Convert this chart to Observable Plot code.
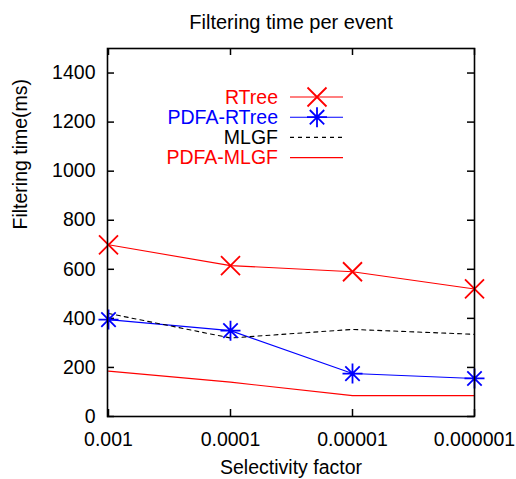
<!DOCTYPE html>
<html>
<head>
<meta charset="utf-8">
<script src="https://cdn.jsdelivr.net/npm/d3@7"></script>
<script src="https://cdn.jsdelivr.net/npm/@observablehq/plot@0.6"></script>
<style>
  html, body { margin: 0; padding: 0; background: white; }
</style>
</head>
<body>
<div id="chart"></div>
<script>
// ---- data ----
const titleText = "Filtering time per event";
const xLabel = "Selectivity factor";
const yLabel = "Filtering time(ms)";
const factors = ["0.001", "0.0001", "0.00001", "0.000001"];
const seriesNames = ["RTree", "PDFA-RTree", "MLGF", "PDFA-MLGF"];
const rtree = [700, 615, 590, 520];
const pdfaRtree = [395, 350, 175, 155];
const mlgf = [420, 320, 355, 335];
const pdfaMlgf = [185, 140, 85, 85];
const yTicks = [0, 200, 400, 600, 800, 1000, 1200, 1400];

// ---- styles ----
const colors = {"RTree": "#ff0000", "PDFA-RTree": "#0000ff", "MLGF": "#000000", "PDFA-MLGF": "#ff0000"};
const dashes = {"RTree": null, "PDFA-RTree": null, "MLGF": "4,4", "PDFA-MLGF": null};

// custom marker shapes (gnuplot-like)
const crossSym = {
  draw(ctx, size) {
    const r = Math.sqrt(size / Math.PI);
    ctx.moveTo(-r, -r); ctx.lineTo(r, r);
    ctx.moveTo(-r, r); ctx.lineTo(r, -r);
  }
};
const starSym = {
  draw(ctx, size) {
    const r = Math.sqrt(size / Math.PI);
    const d = r * 0.72;
    ctx.moveTo(-r, 0); ctx.lineTo(r, 0);
    ctx.moveTo(0, -r); ctx.lineTo(0, r);
    ctx.moveTo(-d, -d); ctx.lineTo(d, d);
    ctx.moveTo(-d, d); ctx.lineTo(d, -d);
  }
};
const symbols = {"RTree": crossSym, "PDFA-RTree": starSym, "MLGF": null, "PDFA-MLGF": null};
const symR = {"RTree": 9.5, "PDFA-RTree": 10};

const valuesBySeries = {"RTree": rtree, "PDFA-RTree": pdfaRtree, "MLGF": mlgf, "PDFA-MLGF": pdfaMlgf};
const seriesData = seriesNames.map(name => ({
  name,
  points: factors.map((f, i) => ({factor: f, value: valuesBySeries[name][i]}))
}));

const W = 516, H = 479;
const mL = 107, mR = 42, mT = 48, mB = 63;
const frameW = W - mL - mR, frameH = H - mT - mB;
const tickLen = 7;
const FS = 19.5;

const lineMarks = [];
const dotMarks = [];
for (const s of seriesData) {
  lineMarks.push(Plot.line(s.points, {
    x: "factor", y: "value", stroke: colors[s.name], strokeWidth: 1.1,
    strokeDasharray: dashes[s.name] || undefined
  }));
  if (symbols[s.name]) {
    dotMarks.push(Plot.dot(s.points, {
      x: "factor", y: "value", symbol: () => symbols[s.name], r: symR[s.name],
      stroke: colors[s.name], fill: "none", strokeWidth: 1.8
    }));
  }
}

// legend drawn inside the frame (top area)
const legendMark = (index, scales, values, dimensions) => {
  const g = d3.create("svg:g");
  const left = dimensions.marginLeft, top = dimensions.marginTop;
  seriesNames.forEach((name, i) => {
    const y = top + 49 + 20.2 * i;
    g.append("text")
      .attr("x", left + 171).attr("y", y).attr("dy", "0.35em")
      .attr("text-anchor", "end").attr("fill", colors[name])
      .attr("font-size", FS)
      .text(name);
    const ln = g.append("line")
      .attr("x1", left + 183).attr("x2", left + 236)
      .attr("y1", y).attr("y2", y)
      .attr("stroke", colors[name]).attr("stroke-width", 1.1);
    if (dashes[name]) ln.attr("stroke-dasharray", dashes[name]);
    if (symbols[name]) {
      const r = symR[name];
      g.append("path")
        .attr("transform", `translate(${left + 210},${y})`)
        .attr("d", d3.symbol(symbols[name], Math.PI * r * r)())
        .attr("stroke", colors[name]).attr("fill", "none").attr("stroke-width", 1.8);
    }
  });
  return g.node();
};

const chart = Plot.plot({
  width: W, height: H,
  marginLeft: mL, marginRight: mR, marginTop: mT, marginBottom: mB,
  style: {fontFamily: "'Liberation Sans', Arial, Helvetica, sans-serif", fontSize: FS + "px", background: "white", color: "black", overflow: "visible"},
  x: {type: "point", domain: factors, padding: 0},
  y: {domain: [0, 1500]},
  marks: [
    // inward ticks on all four sides
    Plot.tickY(yTicks, {y: d => d, insetRight: frameW - tickLen, strokeWidth: 1.5}),
    Plot.tickY(yTicks, {y: d => d, insetLeft: frameW - tickLen, strokeWidth: 1.5}),
    Plot.tickX(factors, {x: d => d, insetTop: frameH - tickLen, strokeWidth: 1.5}),
    Plot.tickX(factors, {x: d => d, insetBottom: frameH - tickLen, strokeWidth: 1.5}),
    Plot.axisY({ticks: yTicks, tickFormat: d => String(d), tickSize: 0, tickPadding: 12, label: null, fontSize: FS}),
    Plot.axisX({tickSize: 0, tickPadding: 16, label: null, fontSize: FS}),
    ...lineMarks,
    ...dotMarks,
    Plot.frame({stroke: "black", strokeWidth: 1.6}),
    Plot.text([titleText], {frameAnchor: "top", dy: -26, lineAnchor: "middle", fontSize: 20, fill: "black"}),
    Plot.text([xLabel], {frameAnchor: "bottom", dy: 51, lineAnchor: "middle", fontSize: FS, fill: "black"}),
    Plot.text([yLabel], {frameAnchor: "left", dx: -87, dy: -3, rotate: -90, lineAnchor: "middle", fontSize: FS, fill: "black"}),
    legendMark
  ]
});
document.getElementById("chart").appendChild(chart);
</script>
</body>
</html>
